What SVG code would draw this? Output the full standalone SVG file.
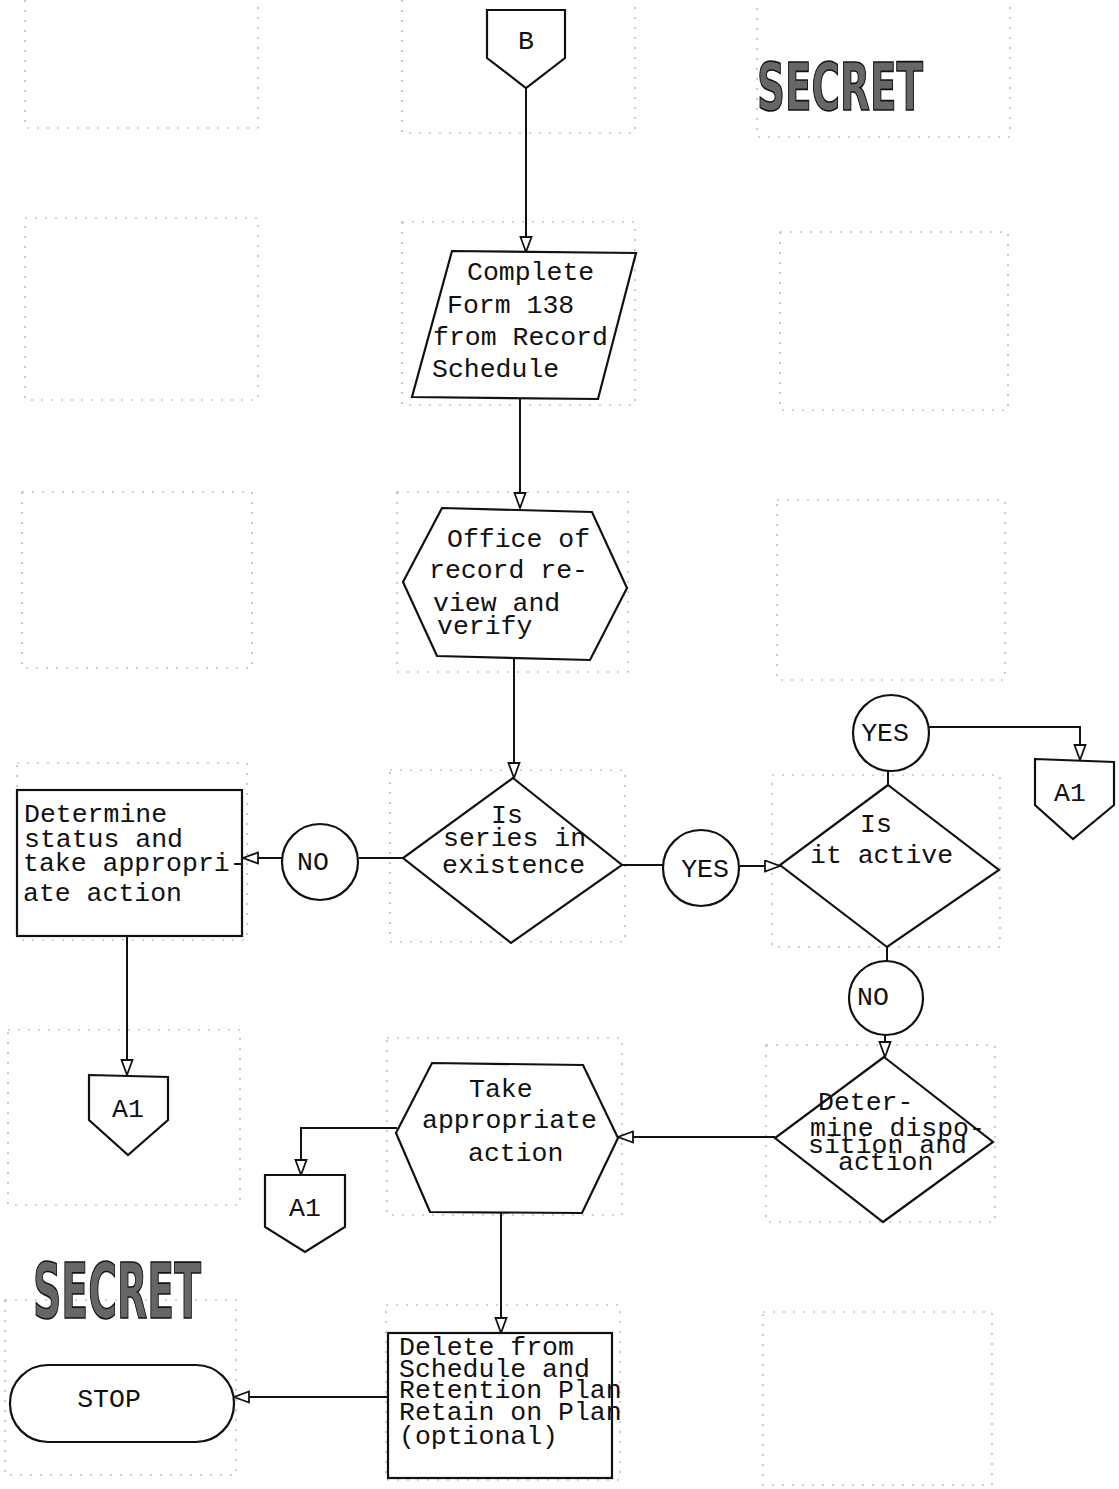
<svg xmlns="http://www.w3.org/2000/svg" width="1119" height="1489" viewBox="0 0 1119 1489">
<style>
.bg{fill:#fff}
.grid{fill:none;stroke:#a8a8a8;stroke-width:1.2;stroke-dasharray:2 8}
.shape{fill:#fff;stroke:#111;stroke-width:2.2;stroke-linejoin:miter}
.conn{fill:none;stroke:#111;stroke-width:2}
.t{font-family:"Liberation Mono","Courier New",monospace;font-size:26.5px;fill:#111}
.c{text-anchor:middle}
.stamp{font-family:"DejaVu Sans","Liberation Sans",sans-serif;font-weight:bold;fill:#666;stroke:#111;stroke-width:1.6}
</style>
<defs>
<marker id="ah" markerUnits="userSpaceOnUse" markerWidth="20" markerHeight="14" refX="16" refY="6.5" orient="auto">
<path d="M1,1 L16,6.5 L1,12 Z" fill="#fff" stroke="#111" stroke-width="1.8"/>
</marker>
</defs>
<rect class="bg" x="0" y="0" width="1119" height="1489"/>

<g id="form-grid">
<rect class="grid" x="25" y="-10" width="233" height="138"/>
<rect class="grid" x="402" y="-10" width="233" height="143"/>
<rect class="grid" x="757" y="-10" width="253" height="147"/>
<rect class="grid" x="25" y="218" width="233" height="182"/>
<rect class="grid" x="402" y="222" width="233" height="183"/>
<rect class="grid" x="780" y="232" width="228" height="178"/>
<rect class="grid" x="22" y="492" width="230" height="176"/>
<rect class="grid" x="397" y="492" width="231" height="180"/>
<rect class="grid" x="777" y="500" width="228" height="180"/>
<rect class="grid" x="17" y="763" width="230" height="177"/>
<rect class="grid" x="390" y="770" width="235" height="172"/>
<rect class="grid" x="772" y="775" width="228" height="172"/>
<rect class="grid" x="8" y="1030" width="232" height="175"/>
<rect class="grid" x="387" y="1038" width="235" height="177"/>
<rect class="grid" x="766" y="1045" width="229" height="177"/>
<rect class="grid" x="5" y="1300" width="231" height="175"/>
<rect class="grid" x="386" y="1305" width="234" height="175"/>
<rect class="grid" x="763" y="1312" width="229" height="173"/>
</g>

<g id="stamps">
<text class="stamp" x="757" y="110" font-size="66" textLength="166" lengthAdjust="spacingAndGlyphs">SECRET</text>
<text class="stamp" x="33" y="1318" font-size="76" textLength="168" lengthAdjust="spacingAndGlyphs">SECRET</text>
</g>

<g id="connectors">
<path class="conn" d="M526,88 V252" marker-end="url(#ah)"/>
<path class="conn" d="M520,399 V508" marker-end="url(#ah)"/>
<path class="conn" d="M514,658 V778" marker-end="url(#ah)"/>
<path class="conn" d="M403,858 H359"/>
<path class="conn" d="M282,858 H243" marker-end="url(#ah)"/>
<path class="conn" d="M127,936 V1075" marker-end="url(#ah)"/>
<path class="conn" d="M622,865 H663"/>
<path class="conn" d="M740,866 H780" marker-end="url(#ah)"/>
<path class="conn" d="M888,771 V785"/>
<path class="conn" d="M929,727 H1080 V760" marker-end="url(#ah)"/>
<path class="conn" d="M887,947 V961"/>
<path class="conn" d="M885,1035 V1057" marker-end="url(#ah)"/>
<path class="conn" d="M775,1137 H618" marker-end="url(#ah)"/>
<path class="conn" d="M397,1128 H301 V1175" marker-end="url(#ah)"/>
<path class="conn" d="M501,1212 V1333" marker-end="url(#ah)"/>
<path class="conn" d="M388,1397 H234" marker-end="url(#ah)"/>
</g>

<g id="node-b">
<polygon class="shape" points="487,10 565,10 565,58 526,88 487,58"/>
<text class="t c" x="526" y="49">B</text>
</g>

<g id="node-complete-form">
<polygon class="shape" points="452,251 636,253 598,399 412,397"/>
<text class="t" x="467" y="280">Complete</text>
<text class="t" x="447" y="313">Form 138</text>
<text class="t" x="433" y="345">from Record</text>
<text class="t" x="432" y="377">Schedule</text>
</g>

<g id="node-office-review">
<polygon class="shape" points="442,508 592,512 627,588 590,660 437,656 403,582"/>
<text class="t" x="447" y="547">Office of</text>
<text class="t" x="429" y="578">record re-</text>
<text class="t" x="433" y="611">view and</text>
<text class="t" x="437" y="634">verify</text>
</g>

<g id="node-series-exists">
<polygon class="shape" points="513,778 622,865 511,943 403,858"/>
<text class="t" x="491" y="823">Is</text>
<text class="t" x="443" y="846">series in</text>
<text class="t" x="442" y="873">existence</text>
</g>

<g id="node-no-1">
<circle class="shape" cx="320" cy="862" r="38"/>
<text class="t c" x="313" y="870">NO</text>
</g>

<g id="node-determine-status">
<rect class="shape" x="17" y="790" width="225" height="146"/>
<text class="t" x="24" y="822">Determine</text>
<text class="t" x="24" y="847">status and</text>
<text class="t" x="23" y="871">take appropri-</text>
<text class="t" x="23" y="901">ate action</text>
</g>

<g id="node-a1-left">
<polygon class="shape" points="89,1075 168,1077 168,1120 128,1155 89,1120"/>
<text class="t c" x="128" y="1117">A1</text>
</g>

<g id="node-yes-1">
<circle class="shape" cx="701" cy="868" r="38"/>
<text class="t c" x="705" y="877">YES</text>
</g>

<g id="node-is-active">
<polygon class="shape" points="888,785 999,870 887,947 780,865"/>
<text class="t" x="860" y="832">Is</text>
<text class="t" x="810" y="863">it active</text>
</g>

<g id="node-yes-2">
<circle class="shape" cx="891" cy="733" r="38"/>
<text class="t c" x="885" y="741">YES</text>
</g>

<g id="node-a1-right">
<polygon class="shape" points="1035,759 1114,762 1114,805 1073,839 1035,805"/>
<text class="t c" x="1070" y="801">A1</text>
</g>

<g id="node-no-2">
<circle class="shape" cx="886" cy="998" r="37"/>
<text class="t c" x="873" y="1005">NO</text>
</g>

<g id="node-determine-disposition">
<polygon class="shape" points="884,1057 993,1142 883,1222 775,1138"/>
<text class="t" x="818" y="1110">Deter-</text>
<text class="t" x="810" y="1136">mine dispo-</text>
<text class="t" x="808" y="1153">sition and</text>
<text class="t" x="838" y="1170">action</text>
</g>

<g id="node-take-action">
<polygon class="shape" points="432,1063 583,1065 618,1138 582,1213 430,1212 396,1133"/>
<text class="t" x="469" y="1097">Take</text>
<text class="t" x="422" y="1128">appropriate</text>
<text class="t" x="468" y="1161">action</text>
</g>

<g id="node-a1-bottom">
<polygon class="shape" points="265,1175 345,1175 345,1227 305,1252 265,1227"/>
<text class="t c" x="305" y="1216">A1</text>
</g>

<g id="node-delete">
<rect class="shape" x="388" y="1333" width="224" height="145"/>
<text class="t" x="399" y="1355">Delete from</text>
<text class="t" x="399" y="1377">Schedule and</text>
<text class="t" x="399" y="1398">Retention Plan</text>
<text class="t" x="399" y="1420">Retain on Plan</text>
<text class="t" x="399" y="1444">(optional)</text>
</g>

<g id="node-stop">
<rect class="shape" x="10" y="1365" width="224" height="77" rx="38" ry="38"/>
<text class="t c" x="109" y="1407">STOP</text>
</g>
</svg>
